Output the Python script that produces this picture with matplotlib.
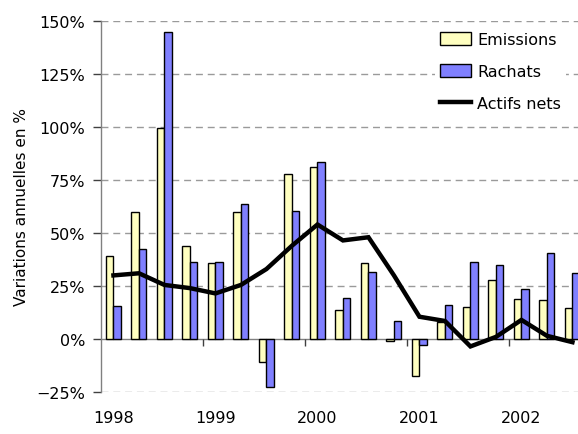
import numpy as np
import matplotlib
matplotlib.use("Agg")
import matplotlib.pyplot as plt
from matplotlib.patches import Patch
from matplotlib.lines import Line2D

# Quarterly annual growth rates (%), 1998 Q1 .. 2002 Q3
quarters = ["1998T1", "1998T2", "1998T3", "1998T4",
            "1999T1", "1999T2", "1999T3", "1999T4",
            "2000T1", "2000T2", "2000T3", "2000T4",
            "2001T1", "2001T2", "2001T3", "2001T4",
            "2002T1", "2002T2", "2002T3"]
emissions = [39, 60, 99.5, 44, 36, 60, -11, 78, 81, 13.5, 36, -1, -17.5, 8, 15, 28, 19, 18.5, 14.5]
rachats = [15.5, 42.5, 145, 36.5, 36.5, 63.5, -22.5, 60.5, 83.5, 19.5, 31.5, 8.5, -3, 16, 36.5, 35, 23.5, 40.5, 31]
actifs_nets = [30, 31, 25.5, 24, 21.5, 25.5, 33, 44, 54, 46.5, 48, 30, 10.5, 8.5, -3.5, 1, 9, 1.5, -1.5]

year_labels = ["1998", "1999", "2000", "2001", "2002"]
yticks = [-25, 0, 25, 50, 75, 100, 125, 150]

plt.rcParams["font.family"] = ["DejaVu Sans"]
FS = 11.5

fig = plt.figure(figsize=(5.78, 4.35), dpi=100)
ax = fig.add_axes([100.7 / 578, 1 - 393 / 435, (19 * 25.5) / 578, (393 - 22) / 435])

x = np.arange(len(quarters))
w = 0.295
ax.bar(x - w / 2, emissions, width=w, color="#FFFFC0", edgecolor="black", linewidth=1.0, zorder=3)
ax.bar(x + w / 2, rachats, width=w, color="#8080FF", edgecolor="black", linewidth=1.0, zorder=3)
ax.plot(x, actifs_nets, color="black", linewidth=3.2, solid_joinstyle="miter", zorder=4)

ax.set_xlim(-0.5, len(quarters) - 0.5)
ax.set_ylim(-25, 150)

# horizontal grid (dashed), zero line solid
for v in yticks:
    if v == 0:
        continue
    ax.axhline(v, color="#9a9a9a", linewidth=1.0, linestyle=(0, (5, 3.5)), zorder=1)
ax.axhline(0, color="#808080", linewidth=1.0, zorder=2)

# year boundary tick marks on the zero line
bounds = np.arange(0, len(quarters), 4) - 0.5
ax.vlines(bounds[1:], -3.2, 0, color="#404040", linewidth=1.0, zorder=2, clip_on=False)

for s in ["top", "right", "bottom"]:
    ax.spines[s].set_visible(False)
ax.spines["left"].set_color("#808080")
ax.spines["left"].set_linewidth(1.0)

ax.set_yticks(yticks)
ax.set_yticklabels([f"{v}%".replace("-", "\u2212") if v < 0 else f"{v}%" for v in yticks], fontsize=FS)
ax.tick_params(axis="y", direction="out", length=6, width=1.0, color="#404040", pad=5)

ax.set_xticks(np.arange(0, len(quarters), 4))
ax.set_xticklabels(year_labels, fontsize=FS)
ax.tick_params(axis="x", length=0, pad=13)

ax.set_ylabel("Variations annuelles en %", fontsize=11)
ax.yaxis.set_label_coords(-0.148, 0.5)

handles = [Patch(facecolor="#FFFFC0", edgecolor="black", linewidth=1.0),
           Patch(facecolor="#8080FF", edgecolor="black", linewidth=1.0),
           Line2D([0], [0], color="black", linewidth=3.2)]
leg = fig.legend(handles, ["Emissions", "Rachats", "Actifs nets"],
                 loc="upper left", bbox_to_anchor=(435 / 578, 1 - 28 / 435),
                 bbox_transform=fig.transFigure, fontsize=FS,
                 frameon=True, fancybox=False, framealpha=1.0,
                 handlelength=1.95, handleheight=0.85, handletextpad=0.4,
                 labelspacing=1.08, borderpad=0.3, borderaxespad=0)
leg.get_frame().set_edgecolor("none")
leg.get_frame().set_facecolor("white")
leg.set_zorder(5)

fig.savefig("out.png", dpi=100)
